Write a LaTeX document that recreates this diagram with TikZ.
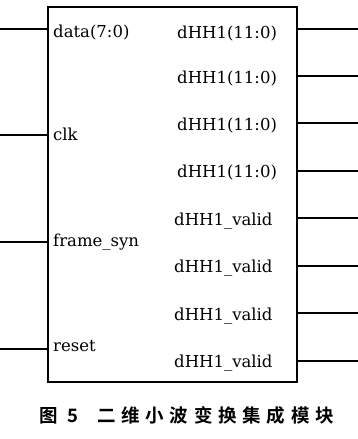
\documentclass[tikz,border=0pt]{standalone}
\usepackage{fontspec}
\setmainfont{DejaVu Serif}
\newfontfamily\cjk[LetterSpace=31]{Noto Sans CJK SC Bold}
\newfontfamily\cjkplain{Noto Sans CJK SC Bold}
\begin{document}
\begin{tikzpicture}[x=1pt,y=-1pt,
  wire/.style={line width=1.4pt},
  lab/.style={inner sep=0pt,font=\fontsize{16.5}{18}\selectfont},
  captxt/.style={inner sep=0pt,font=\fontsize{18.5}{20}\selectfont}]
\useasboundingbox (0,0) rectangle (358,439);
\draw[wire] (48,7) rectangle (297,382);
% left inputs
\foreach \n/\ly/\by/\t in {a/29/37/data(7:0), b/135/140/clk, c/242/246/frame\_syn, d/349/351/reset}{
  \coordinate (L\n) at (0,\ly);
  \coordinate (P\n) at (48,\ly);
  \draw[wire] (L\n) -- (P\n);
  \node[lab,anchor=base west] (T\n) at (53,\by) {\t};
}
% right outputs
\foreach \n/\ly/\by/\t/\xx in {a/29/38/dHH1(11:0)/177, b/76/83/dHH1(11:0)/177, c/123/130/dHH1(11:0)/177, d/171/177/dHH1(11:0)/177, e/218/225/dHH1\_valid/174, f/266/272/dHH1\_valid/174, g/313/320/dHH1\_valid/174, h/361/367/dHH1\_valid/174}{
  \coordinate (R\n) at (358,\ly);
  \coordinate (Q\n) at (297,\ly);
  \draw[wire] (Q\n) -- (R\n);
  \node[lab,anchor=base west] (U\n) at (\xx,\by) {\t};
}
\node[captxt,anchor=base west] (fig) at (39,422) {\cjkplain 图\hspace{10pt}5};
\node[captxt,anchor=base west] (title) at (97,422) {\cjk 二维小波变换集成模块};
\end{tikzpicture}
\end{document}
